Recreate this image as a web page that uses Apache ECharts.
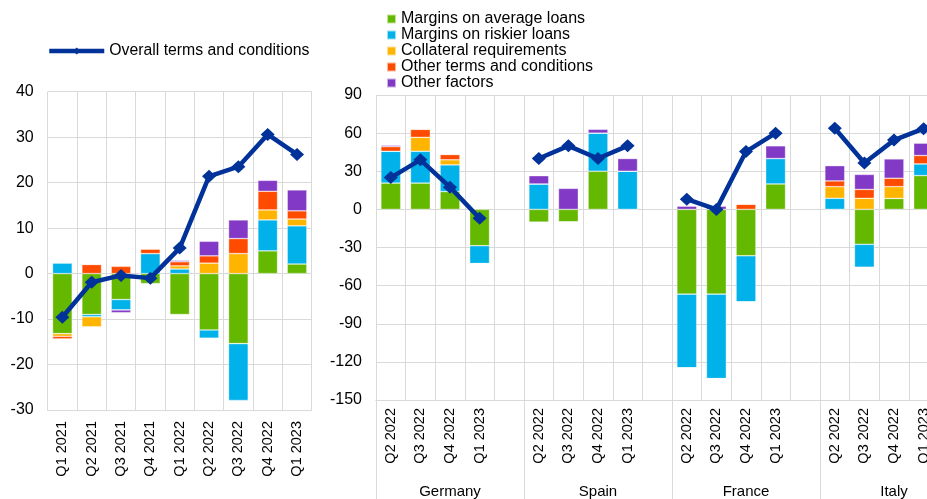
<!DOCTYPE html>
<html>
<head>
<meta charset="utf-8">
<title>Credit standards - terms and conditions</title>
<script src="https://cdn.jsdelivr.net/npm/echarts@6/dist/echarts.min.js"></script>
<style>
  html, body { margin: 0; padding: 0; background: #fff; }
  #chart { width: 927px; height: 499px; }
</style>
</head>
<body>
<div id="chart"></div>
<script>
// euro area panel
const euroQuarters = ["Q1 2021", "Q2 2021", "Q3 2021", "Q4 2021", "Q1 2022", "Q2 2022", "Q3 2022", "Q4 2022", "Q1 2023"];
const euroAverage = [-13.2, -9.0, -5.7, -2.2, -9.0, -12.4, -15.4, 5.0, 2.1];
const euroRiskier = [2.3, -0.5, -2.3, 4.4, 1.0, -1.8, -12.5, 6.8, 8.4];
const euroCollateral = [-0.6, -2.2, 0, 0, 0.7, 2.3, 4.4, 2.2, 1.5];
const euroOtherTerms = [-0.6, 2.0, 1.6, 1.0, 0.9, 1.6, 3.3, 4.1, 1.8];
const euroOtherFactors = [0, 0, -0.6, 0, 0.3, 3.2, 4.1, 2.4, 4.6];
const euroOverall = [-9.6, -1.9, -0.4, -1.0, 5.6, 21.4, 23.5, 30.6, 26.2];

// country panel (Germany, Spain, France, Italy - 4 quarters each)
const countries = ["Germany", "Spain", "France", "Italy"];
const countryQuarters = ["Q2 2022", "Q3 2022", "Q4 2022", "Q1 2023"];
const ctyAverage = [20.7, 20.7, 14, -28.6, -10, -10, 30, 0, -66.7, -66.7, -36.5, 20, 0, -27.5, 8.6, 26.6];
const ctyRiskier = [25, 25, 21, -14, 20, 0, 30, 30, -58, -66.4, -36.2, 20, 8.7, -18, 0, 9.2];
const ctyCollateral = [0, 11, 4, 0, 0, 0, 0, 0, 0, 0, 0, 0, 9.2, 8.7, 9.3, 0];
const ctyOtherTerms = [3.7, 6.3, 4.2, 0, 0, 0, 0, 0, 0, 0, 4, 0, 4.5, 7, 6.6, 6.6];
const ctyOtherFactors = [1, 0, 0, 0, 6.5, 16.5, 3, 10, 2.5, 2.5, 0, 10, 12, 11.8, 15.2, 9.7];
const ctyOverall = [25, 39, 17.5, -7, 40, 50, 40, 50, 8, 0, 45.5, 60, 63.8, 36.5, 54.5, 63.5];

const factorNames = ["Margins on average loans", "Margins on riskier loans", "Collateral requirements", "Other terms and conditions", "Other factors"];
const factorColors = ["#65b800", "#00b1ea", "#ffb400", "#ff4b00", "#8139c6"];
const overallName = "Overall terms and conditions";
const lineColor = "#003299";
const font = "Liberation Sans";

// put an empty slot after each country's 4 quarters
function withGaps(arr) {
  let out = [];
  for (let c = 0; c < countries.length; c++) {
    for (let q = 0; q < countryQuarters.length; q++) {
      out.push(arr[c * countryQuarters.length + q]);
    }
    out.push(null);
  }
  return out;
}

const ctyCategories = withGaps(countries.map(() => countryQuarters).flat()).map((v) => v || "");

const chart = echarts.init(document.getElementById("chart"));

const barBase = {
  type: "bar",
  barCategoryGap: "33%",
  animation: false,
  itemStyle: { borderColor: "rgba(255,255,255,0.6)", borderWidth: 0.6 },
};

let series = [];
const euroBars = [euroAverage, euroRiskier, euroCollateral, euroOtherTerms, euroOtherFactors];
const ctyBars = [ctyAverage, ctyRiskier, ctyCollateral, ctyOtherTerms, ctyOtherFactors];

euroBars.forEach((data, i) => {
  series.push(Object.assign({}, barBase, {
    name: factorNames[i],
    xAxisIndex: 0,
    yAxisIndex: 0,
    stack: "euro",
    color: factorColors[i],
    data: data,
  }));
});
ctyBars.forEach((data, i) => {
  series.push(Object.assign({}, barBase, {
    name: factorNames[i],
    xAxisIndex: 1,
    yAxisIndex: 1,
    stack: "cty",
    color: factorColors[i],
    data: withGaps(data),
  }));
});

const lineBase = {
  type: "line",
  name: overallName,
  animation: false,
  color: lineColor,
  symbol: "diamond",
  symbolSize: [14, 13],
  lineStyle: { width: 4.5, color: lineColor },
  itemStyle: { color: lineColor },
  z: 5,
};
series.push(Object.assign({}, lineBase, { xAxisIndex: 0, yAxisIndex: 0, data: euroOverall }));
series.push(Object.assign({}, lineBase, { xAxisIndex: 1, yAxisIndex: 1, data: withGaps(ctyOverall) }));

const gridLine = { show: true, lineStyle: { color: "#d9d9d9", width: 1 } };

const option = {
  backgroundColor: "#fff",
  textStyle: { fontFamily: font, color: "#000" },
  legend: [
    {
      data: [overallName],
      left: 47,
      top: 43,
      padding: 0,
      itemWidth: 55,
      itemHeight: 9,
      lineStyle: { width: 4.5 },
      textStyle: { fontFamily: font, fontSize: 15.8, color: "#000" },
    },
    {
      data: factorNames,
      orient: "vertical",
      left: 386,
      top: 11,
      padding: 0,
      itemGap: 0,
      itemWidth: 9,
      itemHeight: 9,
      icon: "rect",
      textStyle: { fontFamily: font, fontSize: 16, lineHeight: 15.5, color: "#000" },
    }
  ],
  grid: [
    { left: 47.7, top: 91.7, width: 264, height: 318.3, outerBoundsMode: "none" },
    { left: 376, top: 95, width: 592, height: 305, outerBoundsMode: "none" }
  ],
  xAxis: [
    {
      type: "category",
      gridIndex: 0,
      data: euroQuarters,
      axisLine: { onZero: false, lineStyle: { color: "#d9d9d9" } },
      axisTick: { show: false },
      splitLine: gridLine,
      axisLabel: { rotate: 90, interval: 0, margin: 11, fontSize: 14.5, color: "#000", fontFamily: font },
    },
    {
      type: "category",
      gridIndex: 1,
      position: "bottom",
      data: ctyCategories,
      axisLine: { onZero: false, lineStyle: { color: "#d9d9d9" } },
      axisTick: { show: false },
      splitLine: gridLine,
      axisLabel: { rotate: 90, interval: 0, margin: 8, fontSize: 14.5, color: "#000", fontFamily: font },
    },
    {
      // country names under the quarters, ticks split the groups
      type: "category",
      gridIndex: 1,
      position: "bottom",
      offset: 0,
      data: countries,
      axisLine: { show: true, onZero: false, lineStyle: { color: "#d9d9d9" } },
      axisTick: { show: true, interval: 0, length: 100, lineStyle: { color: "#d9d9d9", width: 1 } },
      axisLabel: { interval: 0, margin: 84, fontSize: 15, color: "#000", fontFamily: font },
    }
  ],
  yAxis: [
    {
      type: "value",
      gridIndex: 0,
      min: -30,
      max: 40,
      interval: 10,
      axisLine: { show: false },
      axisTick: { show: false },
      splitLine: gridLine,
      axisLabel: { margin: 14, fontSize: 16, color: "#000", fontFamily: font },
    },
    {
      type: "value",
      gridIndex: 1,
      min: -150,
      max: 90,
      interval: 30,
      axisLine: { show: false },
      axisTick: { show: false },
      splitLine: gridLine,
      axisLabel: { margin: 14, fontSize: 16, color: "#000", fontFamily: font },
    }
  ],
  series: series,
};

chart.setOption(option);
</script>
</body>
</html>
